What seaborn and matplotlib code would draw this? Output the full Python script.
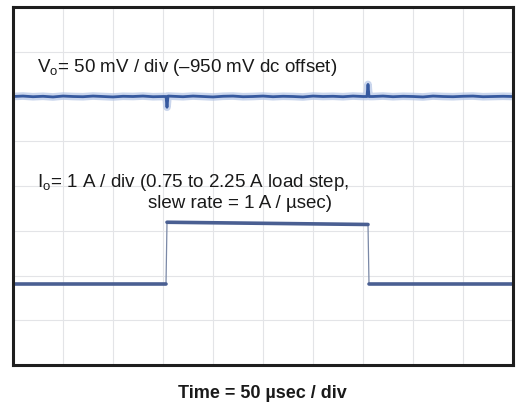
import numpy as np
import pandas as pd
import matplotlib
matplotlib.use("Agg")
import matplotlib.pyplot as plt
import seaborn as sns

# scope screen: time in usec (50 usec / div), vertical position in divisions
vo_time = [0, 10, 20, 30, 40, 50, 60, 70, 80, 90, 100, 110, 120, 130, 140, 150,
           153, 154, 155, 160, 170, 180, 190, 200, 210, 220, 230, 240, 250, 260, 270,
           280, 290, 300, 310, 320, 330, 340, 350, 354, 355, 356, 360, 370, 380, 390,
           400, 410, 420, 430, 440, 450, 460, 470, 480, 490, 500]
vo_level = [6.00, 6.01, 5.995, 6.005, 5.99, 6.01, 6.00, 5.995, 6.01, 6.00, 5.99, 6.005,
            6.00, 6.01, 5.995, 6.00, 6.00, 5.76, 6.01, 6.005, 5.995, 6.01, 6.00, 5.99,
            6.005, 6.01, 5.995, 6.00, 6.01, 5.995, 6.005, 6.00, 5.99, 6.01, 6.00, 6.005,
            5.995, 6.01, 6.00, 6.00, 6.27, 6.00, 6.00, 6.01, 5.995, 6.005, 6.00, 5.99,
            6.01, 6.00, 5.995, 6.005, 6.01, 5.995, 6.00, 6.005, 6.00]

io_time = [0, 153, 154, 355, 356, 500]
io_level = [1.81, 1.81, 3.19, 3.14, 1.81, 1.81]

x_ticks = [0, 50, 100, 150, 200, 250, 300, 350, 400, 450, 500]
y_ticks = [0, 1, 2, 3, 4, 5, 6, 7, 8]

vo_label = "V$_\\mathrm{o}$= 50 mV / div (\u2013950 mV dc offset)"
io_label = "I$_\\mathrm{o}$= 1 A / div (0.75 to 2.25 A load step,"
io_label2 = "slew rate = 1 A / \u00b5sec)"
x_label = "Time = 50 \u00b5sec / div"

sns.set_style("white")
plt.rcParams["font.family"] = ["Liberation Sans", "DejaVu Sans"]
plt.rcParams["mathtext.fontset"] = "custom"
plt.rcParams["mathtext.rm"] = "Liberation Sans"

vo = pd.DataFrame({"t": vo_time, "v": vo_level})
io = pd.DataFrame({"t": io_time, "v": io_level})

fig = plt.figure(figsize=(5.25, 4.05), dpi=100)
ax = fig.add_axes([13 / 525, 40 / 405, 500 / 525, 358 / 405])

ax.set_xticks(x_ticks)
ax.set_yticks(y_ticks)
ax.grid(True, color="#e3e4e7", lw=0.8)
ax.tick_params(length=0, labelbottom=False, labelleft=False)

# voltage trace with a soft halo
sns.lineplot(data=vo, x="t", y="v", ax=ax, sort=False, estimator=None,
             color="#b4c5e6", lw=5.5, alpha=0.7)
sns.lineplot(data=vo, x="t", y="v", ax=ax, sort=False, estimator=None,
             color="#36599f", lw=2.0)

# current step: thin edges, thick flat parts
sns.lineplot(data=io, x="t", y="v", ax=ax, sort=False, estimator=None,
             color="#7a88a6", lw=0.9)
for a, b in [(0, 2), (2, 4), (4, 6)]:
    sns.lineplot(data=io.iloc[a:b], x="t", y="v", ax=ax, sort=False,
                 estimator=None, color="#4a5f92", lw=2.6)

ax.set_xlim(0, 500)
ax.set_ylim(0, 8)
ax.set_xlabel("")
ax.set_ylabel("")
for s in ax.spines.values():
    s.set_visible(True)
    s.set_color("#1e1e1e")
    s.set_linewidth(2.2)

ax.text(24, 6.55, vo_label, fontsize=13.5, color="#1a1a1a", va="baseline")
ax.text(24, 3.98, io_label, fontsize=13.5, color="#1a1a1a", va="baseline")
ax.text(135, 3.50, io_label2, fontsize=13.5, color="#1a1a1a", va="baseline")

fig.text(262 / 525, 1 - 393 / 405, x_label, fontsize=13, fontweight="bold",
         ha="center", va="center", color="#1a1a1a")

fig.savefig("out.png", dpi=100)
